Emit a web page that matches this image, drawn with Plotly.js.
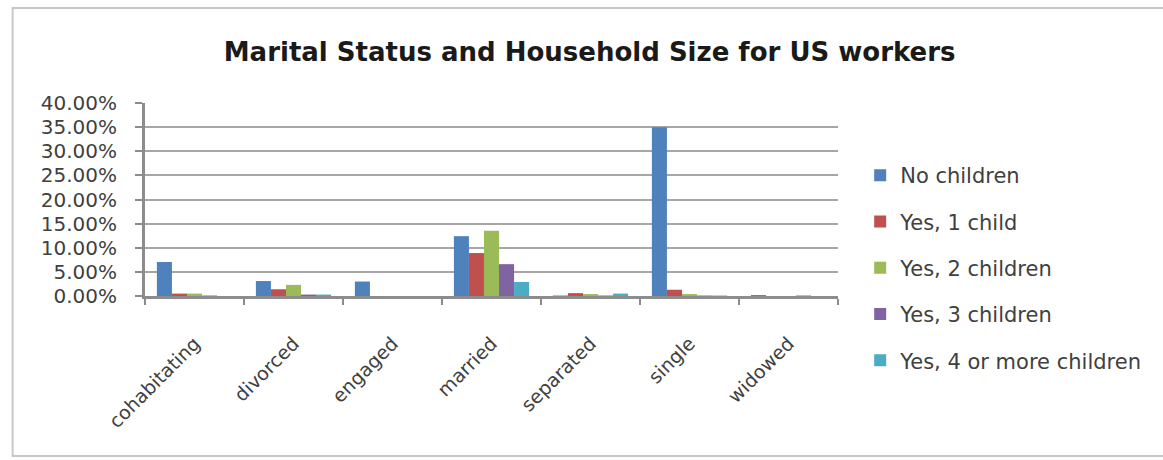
<!DOCTYPE html>
<html>
<head>
<meta charset="utf-8">
<script src="https://cdn.plot.ly/plotly-3.0.1.min.js"></script>
<style>html,body{margin:0;padding:0;background:#fff;}#chart{width:1163px;height:460px;}</style>
</head>
<body>
<div id="chart"></div>
<script>
const categories = ["cohabitating", "divorced", "engaged", "married", "separated", "single", "widowed"];
const seriesNames = ["No children", "Yes, 1 child", "Yes, 2 children", "Yes, 3 children", "Yes, 4 or more children"];
const noChildren   = [0.0705, 0.031, 0.030, 0.124, 0.001, 0.350, 0.002];
const oneChild     = [0.005, 0.014, 0.000, 0.089, 0.006, 0.013, 0.000];
const twoChildren  = [0.005, 0.023, 0.000, 0.135, 0.004, 0.004, 0.000];
const threeChildren= [0.001, 0.003, 0.000, 0.066, 0.001, 0.001, 0.001];
const fourPlus     = [0.000, 0.003, 0.000, 0.029, 0.005, 0.001, 0.000];
const colors = ["#4F81BD", "#C0504D", "#9BBB59", "#8064A2", "#4BACC6"];
const tickVals = [0, 0.05, 0.10, 0.15, 0.20, 0.25, 0.30, 0.35, 0.40];
const tickText = ["0.00%", "5.00%", "10.00%", "15.00%", "20.00%", "25.00%", "30.00%", "35.00%", "40.00%"];

const allSeries = [noChildren, oneChild, twoChildren, threeChildren, fourPlus];
const traces = allSeries.map((vals, i) => ({
  type: "bar",
  name: seriesNames[i],
  x: categories,
  y: vals,
  marker: {color: colors[i]},
  legendgroup: "g" + i
}));

const layout = {
  width: 1163, height: 460,
  margin: {l: 145, r: 325, t: 103, b: 164},
  paper_bgcolor: "#fff", plot_bgcolor: "#fff",
  font: {family: "DejaVu Sans", color: "#404040"},
  title: {
    text: "Marital Status and Household Size for US workers",
    font: {family: "DejaVu Sans", size: 26, color: "#1a1a1a", weight: "bold"},
    xref: "container", x: 0.507, xanchor: "center",
    yref: "container", y: 0.887, yanchor: "middle"
  },
  barmode: "group",
  bargap: 0.24,
  bargroupgap: 0,
  showlegend: true,
  legend: {
    x: 1.032, xanchor: "left", y: 0.145, yanchor: "middle",
    font: {family: "DejaVu Sans", size: 21, color: "#404040"},
    traceorder: "grouped", tracegroupgap: 16,
    itemwidth: 30, maxheight: 440
  },
  xaxis: {
    type: "category",
    tickangle: -45,
    tickfont: {family: "DejaVu Sans", size: 19, color: "#404040"},
    showline: true, linecolor: "#8c8c8c", linewidth: 3,
    ticks: "outside", tickson: "boundaries", ticklen: 6, tickcolor: "#8c8c8c", tickwidth: 2,
    ticklabelstandoff: 26,
    showgrid: false, zeroline: false, fixedrange: true
  },
  yaxis: {
    range: [0, 0.4],
    tickvals: tickVals, ticktext: tickText,
    tickfont: {family: "DejaVu Sans", size: 20, color: "#404040"},
    showline: true, linecolor: "#8c8c8c", linewidth: 3,
    ticks: "outside", ticklen: 7, tickcolor: "#8c8c8c", tickwidth: 2,
    ticklabelstandoff: 14,
    showgrid: true, gridcolor: "#a6a6a6", gridwidth: 2,
    zeroline: false, fixedrange: true
  },
  shapes: [{
    type: "rect", xref: "paper", yref: "paper",
    x0: -0.191, x1: 1.6, y0: -0.829, y1: 1.492,
    line: {color: "#c8c8c8", width: 2}, fillcolor: "rgba(0,0,0,0)", layer: "below"
  }]
};

Plotly.newPlot("chart", traces, layout, {displayModeBar: false, staticPlot: true});
</script>
</body>
</html>
